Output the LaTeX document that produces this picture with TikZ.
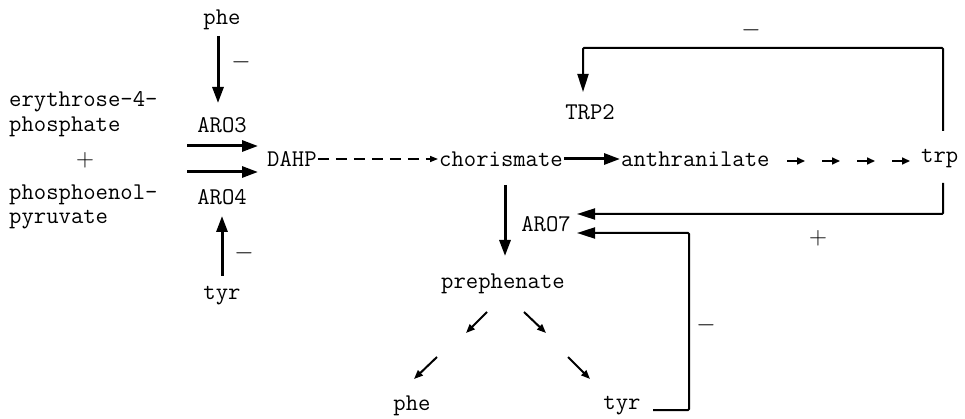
\documentclass[tikz,border=0pt]{standalone}
\usetikzlibrary{arrows.meta}
\tikzset{
  lbl/.style={font=\fontsize{24}{27}\selectfont\ttfamily, inner sep=1pt},
  big/.style={line width=3pt, -{Triangle[length=16pt,width=11pt]}},
  fb/.style={line width=2pt, -{Triangle[length=18pt,width=11pt]}},
  small/.style={line width=2pt, -{Triangle[length=9pt,width=7pt]}}
}
\begin{document}
\begin{tikzpicture}[x=1pt,y=-1pt]
    \useasboundingbox (0,0) rectangle (965,419);
    % substrates
    \node[lbl, anchor=west] (ery) at (8,102) {erythrose-4-};
    \node[lbl, anchor=west] (pho) at (8,127) {phosphate};
    \node[lbl] (plus) at (85,160) {$+$};
    \node[lbl, anchor=west] (pep) at (8,195) {phosphoenol-};
    \node[lbl, anchor=west] (pyr) at (8,220) {pyruvate};
    % isoenzymes and their inhibitors
    \node[lbl] (phetop) at (222,20) {phe};
    \node[lbl] (aro3) at (222,125) {ARO3};
    \node[lbl] (aro4) at (222,197) {ARO4};
    \node[lbl] (tyrtop) at (222,296) {tyr};
    \draw[big] (218,36) -- (218,103);
    \node[lbl] (m1) at (241,62) {$-$};
    \draw[big] (222,276) -- (222,216);
    \node[lbl] (m2) at (244,253) {$-$};
    \draw[big] (187,146) -- (258,146);
    \draw[big] (187,172) -- (258,172);
    % main pathway
    \node[lbl, anchor=west] (dahp) at (266,159) {DAHP};
    \node[lbl, anchor=west] (chor) at (438,159) {chorismate};
    \node[lbl, anchor=west] (anth) at (620,159) {anthranilate};
    \node[lbl, anchor=west] (trp) at (920,159) {trp};
    \node[lbl] (trp2) at (590,112) {TRP2};
    \draw[line width=1.5pt, dash pattern=on 11pt off 7pt, -{Triangle[length=8pt,width=6pt]}] (dahp.east) -- (chor.west);
    \draw[line width=3pt, -{Triangle[length=16pt,width=11pt]}] (chor.east) -- (anth.west);
    \foreach \a in {787,822,857,892}
        \draw[line width=1.6pt, -{Triangle[length=8pt,width=7pt]}] (\a,161) -- (\a+18,161);
    % chorismate -> prephenate
    \node[lbl] (aro7) at (546,224) {ARO7};
    \node[lbl] (preph) at (503,284) {prephenate};
    \draw[big] (505,185) -- (505,256);
    \node[lbl] (phebot) at (412,406) {phe};
    \node[lbl] (tyrbot) at (622,406) {tyr};
    \draw[small] (487,312) -- (466,333);
    \draw[small] (437,357) -- (414,379);
    \draw[small] (524,312) -- (546,333);
    \draw[small] (568,357) -- (590,379);
    % feedback loops
    \draw[fb, rounded corners=1pt] (943,131) -- (943,48) -- (583,48) -- (583,92);
    \node[lbl] (m3) at (751,30) {$-$};
    \draw[fb, rounded corners=1pt] (943,183) -- (943,214) -- (577,214);
    \node[lbl] (p2) at (818,238) {$+$};
    \draw[fb, rounded corners=1pt] (653,410) -- (689,410) -- (689,233) -- (577,233);
    \node[lbl] (m4) at (706,325) {$-$};
\end{tikzpicture}
\end{document}
